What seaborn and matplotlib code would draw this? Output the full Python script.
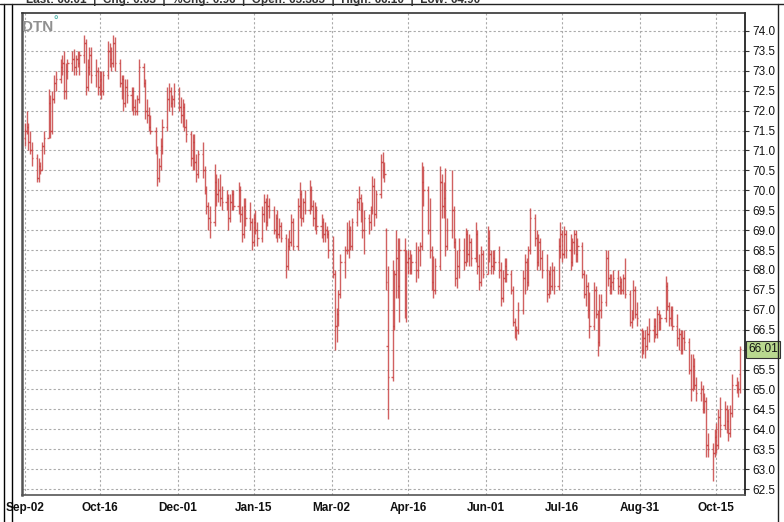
import matplotlib
matplotlib.use("Agg")
import matplotlib.pyplot as plt
import matplotlib.dates as mdates
import numpy as np
import pandas as pd
import seaborn as sns

# daily OHLC, one row per week (Mon..Fri)
opens = [
    71.3, 71.5, 71.6, 71.2, 71.0,  70.8, 70.3, 70.6, 70.5, 71.1,  71.3, 72.2, 71.5, 72.3, 72.7,
    72.8, 73.1, 73.2, 72.5, 73.0,  73.2, 73.3, 73.1, 73.3, 73.2,  73.4, 73.7, 72.6, 73.1, 73.4,
    72.9, 73.0, 72.6, 72.8, 72.5,  72.9, 73.5, 73.3, 73.2, 73.7,  73.2, 72.7, 72.8, 72.2, 72.6,
    72.4, 72.5, 72.1, 72.0, 72.3,  73.1, 72.7, 72.0, 71.9, 71.6,  71.5, 71.0, 70.3, 70.6, 71.1,
    71.6, 72.3, 72.5, 72.2, 72.3,  72.5, 72.1, 71.9, 72.1, 71.6,  71.4, 70.8, 71.2, 70.7, 70.4,
    70.9, 70.5, 70.0, 69.6, 69.3,  69.2, 70.2, 69.9, 70.0, 69.8,  69.7, 69.8, 69.3, 69.7, 69.9,
    69.6, 70.0, 69.4, 68.9, 69.6,  69.3, 69.2, 68.7, 69.2, 69.0,  68.8, 69.4, 69.7, 69.2, 69.6,
    69.5, 69.0, 69.3, 68.9, 69.1,  68.8, 68.1, 68.6, 68.7, 69.2,  68.6, 69.6, 69.9, 69.3, 69.7,
    69.5, 70.0, 69.6, 69.3, 69.5,  69.1, 69.2, 68.9, 69.0, 68.9,  68.5, 67.9, 66.6, 66.9, 67.4,
    68.2, 68.5, 68.5, 69.0, 68.6,  69.2, 69.7, 69.8, 69.5, 69.0,  69.3, 69.2, 69.5, 70.1, 69.4,
    69.9, 70.7, 70.5, 69.0, 66.1,  65.3, 66.6, 67.9, 68.3, 67.6,  68.5, 67.0, 68.2, 68.3, 68.0,
    68.2, 68.0, 68.5, 68.6, 70.2,  70.0, 69.0, 68.5, 67.7, 67.5,  68.1, 70.2, 69.6, 69.8, 68.6,
    69.0, 69.5, 68.7, 67.8, 68.1,  68.5, 68.2, 68.9, 68.4, 68.7,  68.3, 68.9, 68.1, 67.7, 68.4,
    67.9, 68.8, 68.4, 68.1, 68.3,  68.2, 68.0, 67.3, 67.8, 68.1,  67.9, 67.5, 66.7, 66.5, 66.5,
    67.0, 67.8, 68.2, 67.7, 68.5,  69.3, 68.8, 68.2, 68.7, 68.3,  68.0, 67.4, 67.9, 67.6, 68.0,
    67.6, 68.6, 68.9, 68.4, 68.9,  68.5, 68.2, 68.7, 68.9, 68.4,  68.6, 67.9, 67.4, 67.6, 67.0,
    66.6, 67.5, 66.9, 66.2, 67.0,  67.2, 68.3, 67.8, 67.6, 67.7,  67.8, 67.6, 67.7, 67.5, 67.8,
    67.4, 66.7, 66.8, 67.5, 66.9,  66.5, 66.0, 66.3, 66.1, 66.4,  66.5, 66.6, 66.4, 66.9, 66.7,
    66.8, 67.6, 67.1, 66.8, 67.0,  66.6, 66.3, 66.4, 66.0, 66.3,  66.2, 65.5, 65.0, 65.6, 65.1,
    64.9, 65.0, 64.5, 64.7, 63.6,  63.5, 63.4, 63.8, 63.6, 64.3,  64.1, 64.5, 64.2, 63.9, 64.4,
    65.1, 65.0, 65.385,
]
highs = [
    71.7, 72.0, 71.7, 71.5, 71.2,  70.9, 70.8, 70.7, 71.2, 71.5,  72.55, 72.4, 72.5, 72.9, 73.0,
    73.3, 73.4, 73.5, 73.2, 73.3,  73.5, 73.55, 73.4, 73.5, 73.5,  73.9, 73.8, 73.3, 73.6, 73.6,
    73.3, 73.1, 73.0, 73.0, 73.0,  73.75, 73.7, 73.6, 73.9, 73.85,  73.3, 72.9, 72.9, 72.8, 72.8,
    72.6, 72.6, 72.3, 72.4, 73.3,  73.2, 72.8, 72.3, 72.1, 71.9,  71.6, 71.1, 70.8, 71.3, 71.8,
    72.6, 72.7, 72.6, 72.4, 72.7,  72.6, 72.35, 72.3, 72.2, 71.8,  71.5, 71.4, 71.4, 70.9, 71.0,
    71.2, 70.6, 70.1, 69.7, 69.6,  70.65, 70.4, 70.3, 70.4, 70.1,  70.0, 69.9, 69.9, 70.0, 70.0,
    70.2, 70.1, 69.6, 69.8, 69.8,  69.7, 69.3, 69.4, 69.5, 69.2,  69.6, 69.9, 69.8, 69.9, 69.8,
    69.6, 69.4, 69.5, 69.3, 69.2,  68.9, 68.8, 69.0, 69.4, 69.3,  69.8, 70.2, 70.0, 69.8, 70.0,
    70.25, 70.1, 69.75, 69.7, 69.6,  69.4, 69.3, 69.2, 69.1, 69.0,  68.85, 68.0, 67.05, 67.5, 68.4,
    68.6, 69.2, 69.25, 69.1, 69.3,  69.8, 70.1, 69.9, 69.7, 69.5,  69.4, 69.6, 70.35, 70.3, 70.0,
    70.9, 70.95, 70.7, 69.05, 68.1,  68.25, 68.0, 69.0, 68.8, 68.8,  68.8, 68.5, 68.5, 68.5, 68.4,
    68.7, 68.6, 68.7, 70.7, 70.6,  70.1, 69.8, 68.6, 68.35, 68.3,  70.6, 70.4, 70.2, 70.55, 69.3,
    70.5, 69.6, 68.8, 68.5, 68.8,  68.8, 69.05, 69.0, 68.9, 68.8,  69.2, 69.0, 68.4, 68.6, 68.5,
    69.1, 69.0, 68.5, 68.5, 68.5,  68.6, 68.2, 68.0, 68.3, 68.3,  68.0, 67.6, 66.8, 66.6, 67.2,
    68.0, 68.4, 68.3, 68.6, 69.55,  69.4, 69.0, 68.9, 68.8, 68.5,  68.4, 68.0, 68.1, 68.2, 68.1,
    68.8, 69.2, 69.0, 69.1, 69.0,  68.9, 68.8, 69.0, 69.0, 68.8,  68.7, 68.0, 67.9, 67.7, 67.45,
    67.7, 67.6, 67.0, 67.4, 67.4,  68.5, 68.5, 67.9, 67.9, 68.0,  68.0, 67.85, 67.8, 67.9, 68.3,
    67.5, 67.0, 67.75, 67.6, 67.2,  66.55, 66.5, 66.5, 66.6, 66.8,  66.8, 66.8, 67.1, 67.0, 66.9,
    67.85, 67.7, 67.2, 67.1, 67.1,  66.9, 66.55, 66.5, 66.5, 66.5,  66.3, 65.9, 65.9, 65.8, 65.3,
    65.2, 65.1, 64.9, 64.8, 63.9,  63.65, 64.0, 64.15, 64.5, 64.8,  64.7, 64.6, 64.5, 64.6, 65.4,
    65.3, 65.2, 66.1,
]
lows = [
    71.1, 71.4, 71.0, 70.9, 70.6,  70.2, 70.2, 70.4, 70.5, 70.9,  71.3, 71.3, 71.4, 72.2, 72.5,
    72.7, 72.9, 72.3, 72.3, 72.8,  73.0, 72.9, 72.9, 73.1, 72.9,  73.2, 72.4, 72.5, 72.9, 72.7,
    72.6, 72.4, 72.4, 72.3, 72.4,  72.8, 73.1, 73.0, 73.1, 73.0,  72.6, 72.3, 72.0, 72.1, 72.2,
    72.0, 71.9, 71.9, 71.9, 72.2,  72.6, 71.8, 71.7, 71.5, 71.4,  70.9, 70.1, 70.2, 70.5, 70.9,
    71.5, 72.0, 72.1, 71.9, 72.1,  72.0, 71.7, 71.6, 71.5, 71.2,  70.6, 70.5, 70.5, 70.2, 70.3,
    70.3, 69.9, 69.4, 69.0, 68.8,  69.1, 69.6, 69.7, 69.6, 69.5,  69.5, 69.0, 69.2, 69.5, 69.5,
    69.4, 69.2, 68.7, 68.8, 69.1,  69.0, 68.5, 68.6, 68.9, 68.6,  68.7, 69.2, 69.0, 69.1, 69.3,
    68.9, 68.8, 68.7, 68.8, 68.7,  67.8, 68.0, 68.5, 68.6, 68.5,  68.5, 69.3, 69.1, 69.2, 69.4,
    69.4, 69.5, 69.1, 69.0, 68.9,  68.8, 68.7, 68.7, 68.8, 68.3,  67.8, 66.0, 66.2, 66.6, 67.3,
    67.8, 68.4, 68.3, 68.5, 68.5,  69.1, 69.5, 69.2, 68.8, 68.4,  68.9, 69.0, 69.4, 69.1, 69.3,
    69.8, 70.3, 70.2, 67.5, 64.25,  65.2, 66.5, 67.3, 67.3, 66.7,  66.8, 66.7, 67.9, 67.9, 67.9,
    67.7, 67.8, 68.1, 68.5, 69.6,  68.9, 68.3, 67.5, 67.3, 67.4,  68.0, 69.3, 69.3, 68.35, 68.5,
    68.8, 68.55, 67.6, 67.55, 67.8,  68.0, 68.1, 68.2, 68.1, 68.1,  68.2, 67.9, 67.5, 67.6, 67.8,
    67.9, 68.2, 67.9, 67.9, 68.0,  67.8, 67.1, 67.2, 67.7, 67.7,  67.4, 66.6, 66.3, 66.25, 66.4,
    66.9, 67.4, 67.5, 67.6, 68.4,  68.6, 68.0, 68.1, 68.0, 67.8,  67.2, 67.3, 67.4, 67.5, 67.4,
    67.5, 68.3, 68.2, 68.3, 68.3,  68.0, 68.1, 68.4, 68.2, 68.2,  67.8, 67.3, 67.1, 66.8, 66.3,
    66.5, 66.8, 65.85, 66.1, 66.8,  67.1, 67.6, 67.4, 67.4, 67.5,  67.4, 67.4, 67.4, 67.4, 67.3,
    66.6, 66.55, 66.75, 66.8, 66.6,  65.8, 65.9, 65.8, 66.0, 66.2,  66.2, 66.3, 66.3, 66.5, 66.5,
    66.7, 67.0, 66.6, 66.6, 66.5,  66.1, 66.0, 65.9, 65.9, 66.0,  65.4, 64.7, 64.95, 65.0, 64.7,
    64.7, 64.4, 64.4, 63.3, 63.3,  62.7, 63.3, 63.4, 63.5, 63.8,  64.0, 63.9, 63.7, 63.8, 64.3,
    64.9, 64.8, 64.9,
]
closes = [
    71.5, 71.6, 71.2, 71.0, 70.8,  70.3, 70.6, 70.5, 71.1, 71.3,  72.2, 71.5, 72.3, 72.7, 72.8,
    73.1, 73.2, 72.5, 73.0, 73.2,  73.3, 73.1, 73.3, 73.2, 73.4,  73.7, 72.6, 73.1, 73.4, 72.9,
    73.0, 72.6, 72.8, 72.5, 72.9,  73.5, 73.3, 73.2, 73.7, 73.2,  72.7, 72.8, 72.2, 72.6, 72.4,
    72.5, 72.1, 72.0, 72.3, 73.1,  72.7, 72.0, 71.9, 71.6, 71.5,  71.0, 70.3, 70.6, 71.1, 71.6,
    72.3, 72.5, 72.2, 72.3, 72.5,  72.1, 71.9, 72.1, 71.6, 71.4,  70.8, 71.2, 70.7, 70.4, 70.9,
    70.5, 70.0, 69.6, 69.3, 69.2,  70.2, 69.9, 70.0, 69.8, 69.7,  69.8, 69.3, 69.7, 69.9, 69.6,
    70.0, 69.4, 68.9, 69.6, 69.3,  69.2, 68.7, 69.2, 69.0, 68.8,  69.4, 69.7, 69.2, 69.6, 69.5,
    69.0, 69.3, 68.9, 69.1, 68.8,  68.1, 68.6, 68.7, 69.2, 68.6,  69.6, 69.9, 69.3, 69.7, 69.5,
    70.0, 69.6, 69.3, 69.5, 69.1,  69.2, 68.9, 69.0, 68.9, 68.5,  67.9, 66.6, 66.9, 67.4, 68.2,
    68.5, 68.5, 69.0, 68.6, 69.2,  69.7, 69.8, 69.5, 69.0, 69.3,  69.2, 69.5, 70.1, 69.4, 69.9,
    70.7, 70.5, 70.4, 67.7, 65.3,  66.6, 67.9, 68.3, 67.6, 68.5,  67.0, 68.2, 68.3, 68.0, 68.2,
    68.0, 68.5, 68.6, 70.2, 70.0,  69.0, 68.5, 67.7, 67.5, 68.1,  70.2, 69.6, 69.8, 68.6, 69.0,
    69.5, 68.7, 67.8, 68.1, 68.5,  68.2, 68.9, 68.4, 68.7, 68.3,  68.9, 68.1, 67.7, 68.4, 67.9,
    68.8, 68.4, 68.1, 68.3, 68.2,  68.0, 67.3, 67.8, 68.1, 67.9,  67.5, 66.7, 66.5, 66.5, 67.0,
    67.8, 68.2, 67.7, 68.5, 69.3,  68.8, 68.2, 68.7, 68.3, 68.0,  67.4, 67.9, 67.6, 68.0, 67.6,
    68.6, 68.9, 68.4, 68.9, 68.5,  68.2, 68.7, 68.9, 68.4, 68.6,  67.9, 67.4, 67.6, 67.0, 66.6,
    67.5, 66.9, 66.2, 67.0, 67.2,  68.3, 67.8, 67.6, 67.7, 67.8,  67.6, 67.7, 67.5, 67.8, 67.4,
    66.7, 66.8, 67.5, 66.9, 66.8,  66.0, 66.3, 66.1, 66.4, 66.5,  66.6, 66.4, 66.9, 66.7, 66.8,
    67.6, 67.1, 66.8, 67.0, 66.6,  66.3, 66.4, 66.0, 66.3, 66.2,  65.5, 65.0, 65.6, 65.1, 64.9,
    65.0, 64.5, 64.7, 63.6, 63.5,  63.4, 63.8, 63.6, 64.3, 64.1,  64.5, 64.2, 63.9, 64.4, 65.1,
    65.0, 65.0, 66.01,
]

tick_dates = ["2024-09-02", "2024-10-16", "2024-12-01", "2025-01-15", "2025-03-02",
              "2025-04-16", "2025-06-01", "2025-07-16", "2025-08-31", "2025-10-15"]
tick_labels = ["Sep-02", "Oct-16", "Dec-01", "Jan-15", "Mar-02",
               "Apr-16", "Jun-01", "Jul-16", "Aug-31", "Oct-15"]
price_ticks = [62.5, 63.0, 63.5, 64.0, 64.5, 65.0, 65.5, 66.0, 66.5, 67.0, 67.5, 68.0,
               68.5, 69.0, 69.5, 70.0, 70.5, 71.0, 71.5, 72.0, 72.5, 73.0, 73.5, 74.0]
last_price = 66.01
header = "Last: 66.01  |  Chg: 0.63  |  %Chg: 0.96  |  Open: 65.385  |  High: 66.10  |  Low: 64.90"

df = pd.DataFrame({
    "date": pd.bdate_range("2024-09-02", "2025-10-29"),
    "open": opens, "high": highs, "low": lows, "close": closes,
})

sns.set_style("white")
plt.rcParams["font.family"] = ["Liberation Sans", "DejaVu Sans"]

W, H = 784, 522
fig = plt.figure(figsize=(W / 100, H / 100), dpi=100)
ax = fig.add_axes([22 / W, 27 / H, (745 - 22) / W, (509 - 27) / H])

x = mdates.date2num(df["date"])
bar_color = "#c94545"
ax.vlines(x, df["low"], df["high"], color=bar_color, lw=1.0, alpha=0.85)
ax.hlines(df["open"], x - 0.8, x, color=bar_color, lw=1.0, alpha=0.85)
ax.hlines(df["close"], x, x + 0.8, color=bar_color, lw=1.0, alpha=0.85)

ax.set_xlim(mdates.date2num(pd.Timestamp("2024-08-31 05:00")),
            mdates.date2num(pd.Timestamp("2025-10-31 22:00")))
ax.set_ylim(62.35, 74.45)

ax.set_xticks(mdates.date2num(pd.to_datetime(tick_dates)))
ax.set_xticklabels(tick_labels)
ax.set_yticks(price_ticks)
# the 66.0 label sits under the last-price tag
ax.set_yticklabels(["" if v == 66.0 else f"{v:.1f}" for v in price_ticks])
ax.yaxis.tick_right()
ax.tick_params(axis="both", direction="out", length=3, width=0.8, colors="#333333",
               labelsize=8.5, labelcolor="#111111", pad=2)
for lab in ax.get_xticklabels():
    lab.set_fontweight("bold")

ax.set_axisbelow(True)
ax.grid(True, linestyle=(0, (2, 2)), color="#aaaaaa", lw=0.8)

for side, col, lw in [("left", "#555555", 1.8), ("bottom", "#555555", 1.2),
                      ("right", "#111111", 1.2), ("top", "#333333", 1.2)]:
    ax.spines[side].set_visible(True)
    ax.spines[side].set_color(col)
    ax.spines[side].set_linewidth(lw)

# last price tag on the price axis
ax.text(1.004, last_price, f"{last_price:.2f}", transform=ax.get_yaxis_transform(),
        ha="left", va="center", fontsize=8.5, color="#111111", zorder=10, clip_on=False,
        bbox=dict(boxstyle="square,pad=0.2", facecolor="#b9d98f", edgecolor="#333333", lw=0.8))

# logo and window chrome
fig.text(22 / W, 1 - 27 / H, "DTN", color="#909090", fontsize=11, fontweight="bold", va="center")
fig.text(53 / W, 1 - 21 / H, "°", color="#5ab8b0", fontsize=8, fontweight="bold", va="center")
fig.text(26 / W, 1.0, header, fontsize=8.5, fontweight="bold", color="#333333", va="center")
for xp in (4, 12):
    fig.add_artist(plt.Line2D([xp / W, xp / W], [0, 1 - 4 / H], color="black", lw=1.0,
                              transform=fig.transFigure))
fig.add_artist(plt.Line2D([778 / W, 778 / W], [0, 1 - 4 / H], color="#222222", lw=1.0,
                          transform=fig.transFigure))
fig.add_artist(plt.Line2D([0, 1], [1 - 4 / H, 1 - 4 / H], color="#222222", lw=1.0,
                          transform=fig.transFigure))

fig.savefig("out.png", dpi=100)
